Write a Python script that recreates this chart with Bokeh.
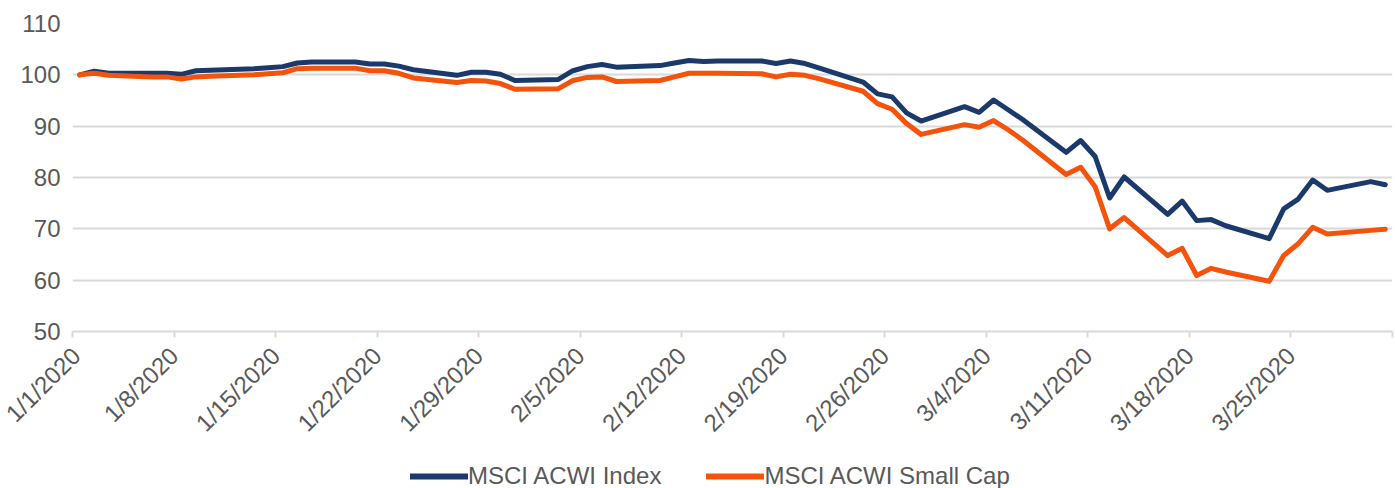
import datetime as dt
from bokeh.plotting import figure
from bokeh.layouts import column
from bokeh.models import Range1d, FixedTicker, Legend, LegendItem, ColumnDataSource
from bokeh.embed import file_html
from bokeh.resources import INLINE
from math import pi

dates = [
    "2020-01-01", "2020-01-02", "2020-01-03", "2020-01-06", "2020-01-07", "2020-01-08", "2020-01-09", "2020-01-10",
    "2020-01-13", "2020-01-14", "2020-01-15", "2020-01-16", "2020-01-17", "2020-01-20", "2020-01-21", "2020-01-22",
    "2020-01-23", "2020-01-24", "2020-01-27", "2020-01-28", "2020-01-29", "2020-01-30", "2020-01-31",
    "2020-02-03", "2020-02-04", "2020-02-05", "2020-02-06", "2020-02-07", "2020-02-10", "2020-02-11", "2020-02-12",
    "2020-02-13", "2020-02-14", "2020-02-17", "2020-02-18", "2020-02-19", "2020-02-20", "2020-02-21",
    "2020-02-24", "2020-02-25", "2020-02-26", "2020-02-27", "2020-02-28",
    "2020-03-02", "2020-03-03", "2020-03-04", "2020-03-05", "2020-03-06", "2020-03-09", "2020-03-10", "2020-03-11",
    "2020-03-12", "2020-03-13", "2020-03-16", "2020-03-17", "2020-03-18", "2020-03-19", "2020-03-20",
    "2020-03-23", "2020-03-24", "2020-03-25", "2020-03-26", "2020-03-27", "2020-03-30", "2020-03-31",
]

acwi_index = [
    100.0, 100.7, 100.3, 100.3, 100.3, 100.1, 100.8, 100.9,
    101.2, 101.4, 101.6, 102.3, 102.5, 102.5, 102.1, 102.1,
    101.7, 101.0, 99.9, 100.5, 100.5, 100.1, 98.9,
    99.1, 100.8, 101.6, 102.0, 101.5, 101.8, 102.3, 102.8,
    102.6, 102.7, 102.7, 102.2, 102.7, 102.2, 101.3,
    98.6, 96.3, 95.7, 92.6, 91.0,
    93.8, 92.7, 95.1, 93.2, 91.3, 84.9, 87.2, 84.1,
    76.0, 80.1, 72.8, 75.4, 71.6, 71.8, 70.6,
    68.1, 73.9, 75.8, 79.5, 77.5, 79.2, 78.6,
]

acwi_small_cap = [
    100.0, 100.3, 99.9, 99.6, 99.6, 99.2, 99.6, 99.7,
    100.0, 100.2, 100.4, 101.2, 101.3, 101.3, 100.8, 100.8,
    100.3, 99.4, 98.5, 98.9, 98.8, 98.3, 97.2,
    97.3, 98.9, 99.5, 99.6, 98.7, 98.9, 99.6, 100.3,
    100.3, 100.3, 100.2, 99.6, 100.1, 99.9, 99.2,
    96.8, 94.4, 93.3, 90.5, 88.4,
    90.3, 89.8, 91.1, 89.3, 87.3, 80.6, 82.0, 78.2,
    70.0, 72.2, 64.8, 66.2, 60.9, 62.3, 61.6,
    59.8, 64.8, 67.1, 70.3, 69.0, 69.7, 69.9,
]

tick_labels = ["1/1/2020", "1/8/2020", "1/15/2020", "1/22/2020", "1/29/2020", "2/5/2020", "2/12/2020",
               "2/19/2020", "2/26/2020", "3/4/2020", "3/11/2020", "3/18/2020", "3/25/2020", ""]
y_ticks = [50, 60, 70, 80, 90, 100, 110]

series_names = ["MSCI ACWI Index", "MSCI ACWI Small Cap"]
colors = ["#1b3a6b", "#f5520c"]

start = dt.date(2020, 1, 1)
xpos = [(dt.date.fromisoformat(d) - start).days + 0.5 for d in dates]
tick_pos = [7 * i for i in range(len(tick_labels))]

FONT = "Liberation Sans"
GRAY = "#d9d9d9"
TXT = "#595959"
W = 1395

p = figure(width=W, height=456, output_backend="svg", toolbar_location=None,
           x_range=Range1d(0, 91), y_range=Range1d(50, 110),
           min_border_left=72, min_border_right=3, min_border_top=23, min_border_bottom=125)
p.outline_line_color = None
p.background_fill_color = "white"
p.border_fill_color = "white"

src = ColumnDataSource(dict(x=xpos, a=acwi_index, b=acwi_small_cap))
p.line("x", "a", source=src, line_color=colors[0], line_width=5, line_join="round", line_cap="round")
p.line("x", "b", source=src, line_color=colors[1], line_width=5, line_join="round", line_cap="round")

p.xgrid.grid_line_color = None
p.ygrid.grid_line_color = GRAY
p.ygrid.grid_line_width = 2
p.ygrid.ticker = FixedTicker(ticks=y_ticks)

xa = p.xaxis[0]
xa.ticker = FixedTicker(ticks=tick_pos)
xa.major_label_overrides = {t: l for t, l in zip(tick_pos, tick_labels)}
xa.major_label_orientation = pi / 4
xa.major_label_text_font = FONT
xa.major_label_text_font_size = "24px"
xa.major_label_text_color = TXT
xa.axis_line_color = GRAY
xa.axis_line_width = 2
xa.major_tick_line_color = GRAY
xa.major_tick_line_width = 2
xa.major_tick_out = 6
xa.major_tick_in = 0
xa.minor_tick_line_color = None
xa.major_label_standoff = 14

ya = p.yaxis[0]
ya.ticker = FixedTicker(ticks=y_ticks)
ya.axis_line_color = None
ya.major_tick_line_color = None
ya.minor_tick_line_color = None
ya.major_label_text_font = FONT
ya.major_label_text_font_size = "24px"
ya.major_label_text_color = TXT
ya.major_label_standoff = 6

# legend strip below the chart (its frame is aligned with the chart's frame)
q = figure(width=W, height=32, output_backend="svg", toolbar_location=None,
           x_range=Range1d(0, 1), y_range=Range1d(0, 1),
           min_border_left=72, min_border_right=3, min_border_top=0, min_border_bottom=0)
q.axis.visible = False
q.grid.visible = False
q.outline_line_color = None
q.border_fill_color = "white"
l1 = q.line(x=[0, 1], y=[-5, -5], line_color=colors[0], line_width=6, line_cap="round")
l2 = q.line(x=[0, 1], y=[-5, -5], line_color=colors[1], line_width=6, line_cap="round")
legend = Legend(items=[LegendItem(label=series_names[0], renderers=[l1]),
                       LegendItem(label=series_names[1], renderers=[l2])],
                orientation="horizontal", location=(338, -2),
                glyph_width=58, glyph_height=20, label_standoff=0, spacing=45,
                padding=0, margin=0, border_line_color=None, background_fill_alpha=0,
                label_text_font=FONT, label_text_font_size="24px", label_text_color=TXT)
q.add_layout(legend, "center")

layout = column(p, q, spacing=0)
open("out.html", "w").write(file_html(layout, INLINE))
